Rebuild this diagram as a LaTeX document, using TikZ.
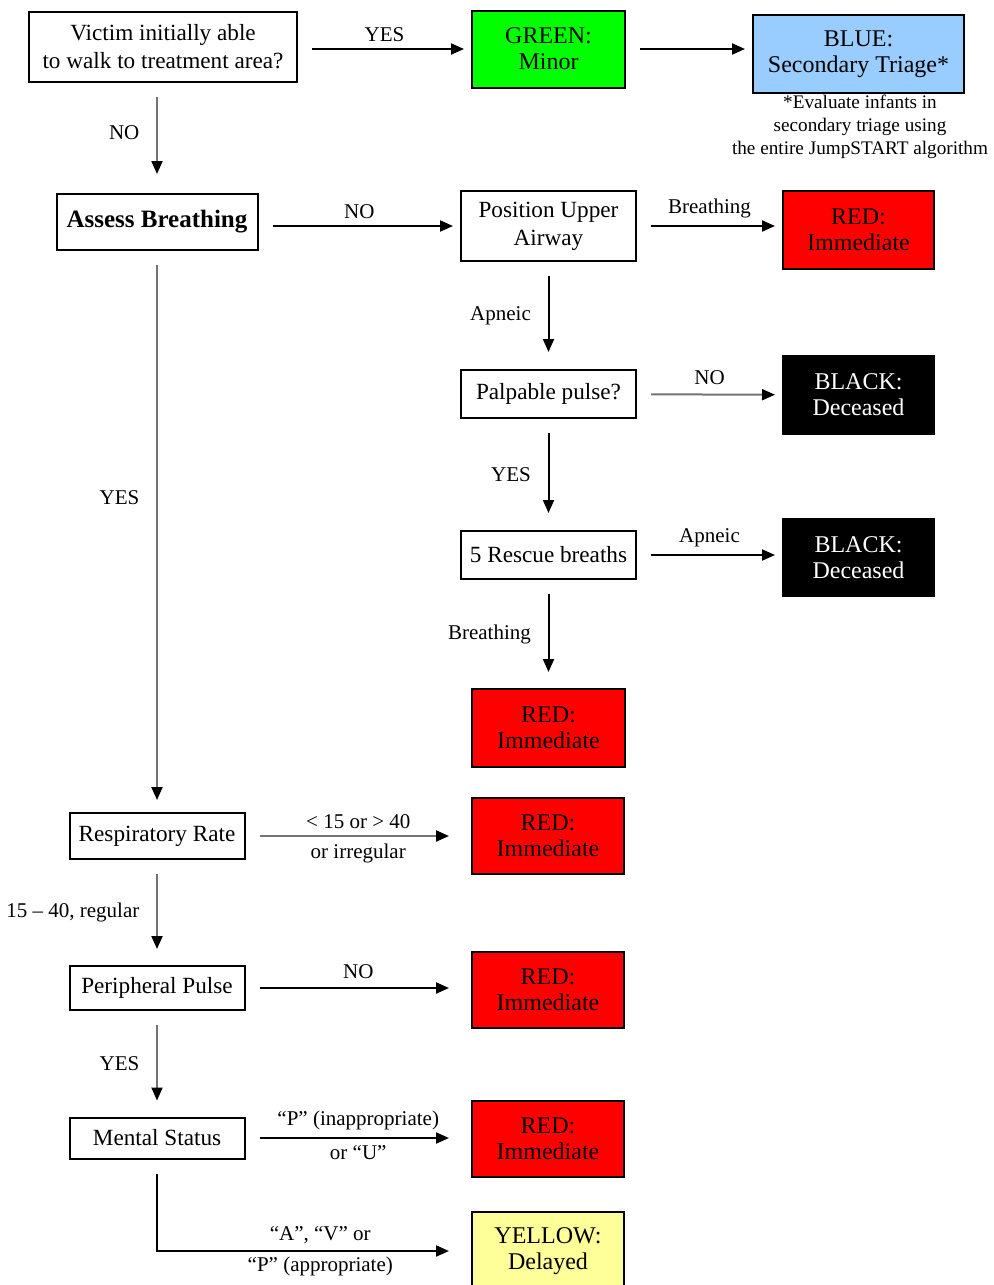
\documentclass[tikz,border=0pt]{standalone}
\usepackage{fontspec}
\setmainfont{Liberation Serif}
\usetikzlibrary{arrows.meta}
\definecolor{tagGreen}{RGB}{0,255,0}
\definecolor{tagBlue}{RGB}{153,204,255}
\definecolor{tagRed}{RGB}{255,0,0}
\definecolor{tagYellow}{RGB}{255,255,153}
\tikzset{
    quest/.style = {draw, line width=1pt, align=center, inner sep=1pt, minimum width=87.5pt, font=\fontsize{11.6}{14}\selectfont},
    tag/.style = {draw, line width=1pt, align=center, inner sep=1pt, minimum width=76pt, minimum height=38.5pt, font=\fontsize{12}{13}\selectfont},
    link/.style = {-{Triangle[length=6.5pt, width=5.5pt, color=black]}, line width=1pt, shorten <=7pt, shorten >=3.5pt},
    glink/.style = {link, draw=black!55},
    lbl/.style = {font=\fontsize{10.5}{12.5}\selectfont, align=center}
}
\begin{document}
\begin{tikzpicture}[x=0.5pt, y=-0.5pt]
    \useasboundingbox (0,0) rectangle (993,1285);
    \node[quest, minimum width=134pt, minimum height=35pt] (victim) at (163, 47) {Victim initially able\\to walk to treatment area?};
    \node[tag, fill=tagGreen, minimum width=76.5pt] (green) at (548.5, 49) {GREEN:\\Minor};
    \node[tag, fill=tagBlue, minimum width=105.5pt, minimum height=39pt] (blue) at (858.5, 54) {BLUE:\\Secondary Triage*};
    \node[align=center, inner sep=0pt, font=\fontsize{9.6}{11.5}\selectfont] (note) at (860, 127) {*Evaluate infants in\\secondary triage using\\the entire JumpSTART algorithm};
    \node[quest, minimum width=100.5pt, minimum height=28pt, font=\fontsize{12.5}{14}\selectfont\bfseries] (assess) at (157, 222) {Assess Breathing};
    \node[quest, minimum height=35pt] (airway) at (548.5, 226) {Position Upper\\Airway};
    \node[tag, fill=tagRed, minimum width=75.5pt, minimum height=39pt] (redA) at (858.5, 230) {RED:\\Immediate};
    \node[quest, minimum height=24pt] (pulse) at (548.5, 394) {Palpable pulse?};
    \node[tag, fill=black, text=white, minimum width=75.5pt, minimum height=39pt] (blackA) at (858.5, 395) {BLACK:\\Deceased};
    \node[quest, minimum height=24pt] (rescue) at (548.5, 555) {5 Rescue breaths};
    \node[tag, fill=black, text=white, minimum width=75.5pt] (blackB) at (858.5, 557.5) {BLACK:\\Deceased};
    \node[tag, fill=tagRed, minimum width=76.5pt, minimum height=39pt] (redB) at (548.5, 728) {RED:\\Immediate};
    \node[quest, minimum height=23pt] (resp) at (157, 836) {Respiratory Rate};
    \node[tag, fill=tagRed, minimum height=38pt] (redC) at (548, 836) {RED:\\Immediate};
    \node[quest, minimum height=22pt] (periph) at (157, 988) {Peripheral Pulse};
    \node[tag, fill=tagRed, minimum height=38pt] (redD) at (548, 990) {RED:\\Immediate};
    \node[quest, minimum height=20.5pt] (mental) at (157, 1138) {Mental Status};
    \node[tag, fill=tagRed, minimum height=38pt] (redE) at (548, 1139) {RED:\\Immediate};
    \node[tag, fill=tagYellow, minimum height=39pt] (yellow) at (548, 1251) {YELLOW:\\Delayed};
    \draw[link] (victim.east |- green) -- node[lbl, above=0pt] {YES} (green);
    \draw[link] (green) -- (green -| blue.west);
    \draw[glink, shorten >=9.5pt] (victim.south -| assess) -- node[lbl, left=5pt, pos=0.45] {NO} (assess);
    \draw[link] (assess.east |- airway) -- node[lbl, above=0pt] {NO} (airway);
    \draw[link] (airway) -- node[lbl, above=0pt] {Breathing} (airway -| redA.west);
    \draw[link, shorten >=8.5pt] (airway) -- node[lbl, left=5pt] {Apneic} (pulse);
    \draw[glink] (pulse) -- node[lbl, above=1pt] {NO} (blackA);
    \draw[link, shorten >=8.5pt] (pulse) -- node[lbl, left=5pt] {YES} (rescue);
    \draw[link] (rescue) -- node[lbl, above=0pt] {Apneic} (rescue -| blackB.west);
    \draw[link, shorten >=8pt] (rescue) -- node[lbl, left=5pt] {Breathing} (redB);
    \draw[glink, shorten >=6pt] (assess) -- node[lbl, left=5pt, pos=0.44] {YES} (resp);
    \draw[glink, shorten >=11pt] (resp) -- node[lbl, above=0pt] {< 15 or > 40} node[lbl, below=0pt] {or irregular} (redC);
    \draw[glink, shorten >=8pt] (resp) -- node[lbl, left=5pt] {15 -- 40, regular} (periph);
    \draw[link, shorten >=11pt] (periph) -- node[lbl, above=1pt] {NO} (periph -| redD.west);
    \draw[glink, shorten >=8pt] (periph) -- node[lbl, left=5pt] {YES} (mental);
    \draw[link, shorten >=11pt] (mental) -- node[lbl, above=0pt] {“P” (inappropriate)} node[lbl, below=0pt] {or “U”} (mental -| redE.west);
    \draw[link, shorten >=11pt] (mental) |- node[lbl, above=0pt, pos=0.76] {“A”, “V” or} node[lbl, below=-1pt, pos=0.76] {“P” (appropriate)} (yellow);
\end{tikzpicture}
\end{document}
